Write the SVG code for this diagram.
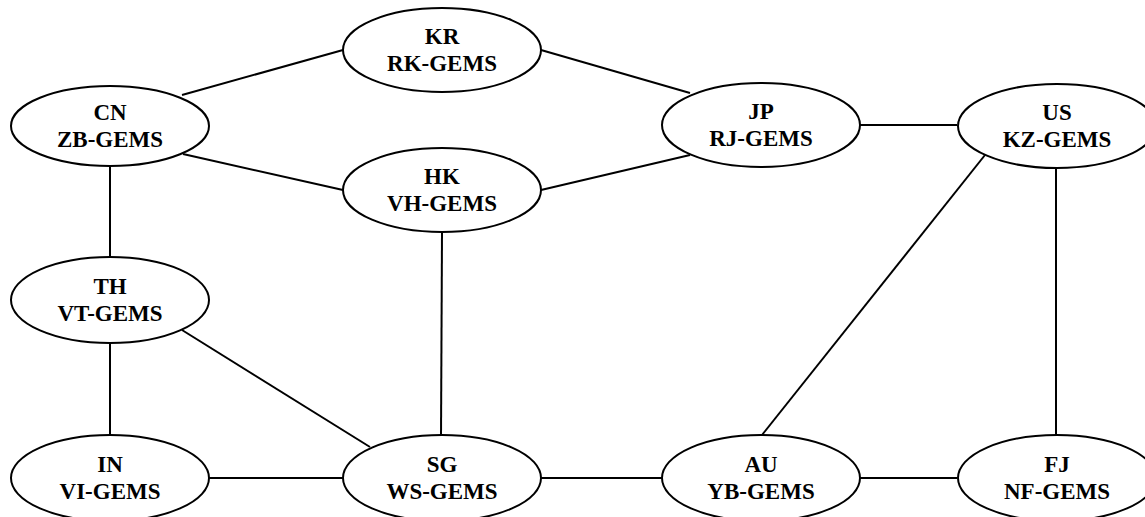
<svg xmlns="http://www.w3.org/2000/svg" width="1145" height="517" viewBox="0 0 1145 517">
<style>
.n ellipse{fill:#fff;stroke:#000;stroke-width:2}
.n text{font-family:"Liberation Serif","Times New Roman",serif;font-weight:bold;font-size:23px;text-anchor:middle;fill:#000}
#edges line{stroke:#000;stroke-width:2}
</style>
<rect width="1145" height="517" fill="#fff"/>
<g id="edges">
<line x1="182" y1="95" x2="343" y2="50"/>
<line x1="183" y1="154" x2="343" y2="190"/>
<line x1="110" y1="166" x2="110" y2="257"/>
<line x1="541" y1="50" x2="690" y2="93"/>
<line x1="541" y1="190" x2="690" y2="155"/>
<line x1="860" y1="125" x2="957" y2="125"/>
<line x1="985" y1="155" x2="762" y2="435"/>
<line x1="1056" y1="167" x2="1056" y2="436"/>
<line x1="442" y1="232" x2="441" y2="436"/>
<line x1="182" y1="330" x2="370" y2="447"/>
<line x1="110" y1="343" x2="110" y2="436"/>
<line x1="209" y1="478" x2="343" y2="478"/>
<line x1="541" y1="478" x2="662" y2="478"/>
<line x1="860" y1="478" x2="957" y2="478"/>
</g>
<g id="KR" class="n"><ellipse cx="442" cy="50" rx="99" ry="42"/><text x="442" y="44">KR</text><text x="442" y="71">RK-GEMS</text></g>
<g id="CN" class="n"><ellipse cx="110" cy="126" rx="99" ry="40"/><text x="110" y="120">CN</text><text x="110" y="147">ZB-GEMS</text></g>
<g id="JP" class="n"><ellipse cx="761" cy="125" rx="99" ry="42"/><text x="761" y="119">JP</text><text x="761" y="146">RJ-GEMS</text></g>
<g id="US" class="n"><ellipse cx="1057" cy="126" rx="99" ry="42"/><text x="1057" y="120">US</text><text x="1057" y="147">KZ-GEMS</text></g>
<g id="HK" class="n"><ellipse cx="442" cy="190" rx="99" ry="42"/><text x="442" y="184">HK</text><text x="442" y="211">VH-GEMS</text></g>
<g id="TH" class="n"><ellipse cx="110" cy="300" rx="99" ry="43"/><text x="110" y="294">TH</text><text x="110" y="321">VT-GEMS</text></g>
<g id="IN" class="n"><ellipse cx="110" cy="478" rx="99" ry="43"/><text x="110" y="472">IN</text><text x="110" y="499">VI-GEMS</text></g>
<g id="SG" class="n"><ellipse cx="442" cy="478" rx="99" ry="43"/><text x="442" y="472">SG</text><text x="442" y="499">WS-GEMS</text></g>
<g id="AU" class="n"><ellipse cx="761" cy="478" rx="99" ry="43"/><text x="761" y="472">AU</text><text x="761" y="499">YB-GEMS</text></g>
<g id="FJ" class="n"><ellipse cx="1057" cy="478" rx="99" ry="43"/><text x="1057" y="472">FJ</text><text x="1057" y="499">NF-GEMS</text></g>
</svg>
